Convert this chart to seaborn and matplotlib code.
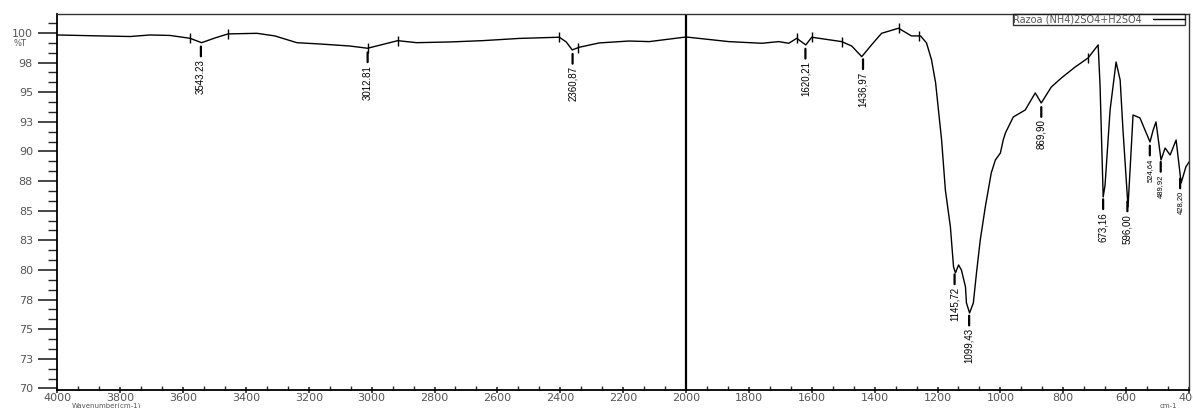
import numpy as np
import pandas as pd
import matplotlib
matplotlib.use("Agg")
import matplotlib.pyplot as plt
from matplotlib.ticker import MultipleLocator, FixedLocator
import seaborn as sns

# ---- data ----
wavenumber = [4000, 3863, 3768, 3705, 3641, 3578, 3541, 3498, 3457, 3365, 3308, 3238,
              3165, 3070, 3013, 2959, 2917, 2857, 2752, 2648, 2530, 2403, 2381, 2362,
              2340, 2276, 2181, 2117, 2000, 1864, 1759, 1705, 1673, 1648, 1619, 1600,
              1505, 1473, 1441, 1410, 1378, 1324, 1283, 1254, 1235, 1219, 1206, 1197,
              1187, 1175, 1159, 1149, 1143, 1133, 1124, 1111, 1108, 1098, 1086, 1076,
              1064, 1048, 1029, 1016, 1000, 991, 984, 959, 921, 889, 870, 838, 806,
              762, 721, 689, 683, 673, 667, 651, 632, 619, 610, 594, 584, 578, 556,
              540, 524, 514, 505, 489, 476, 460, 441, 425, 410, 400]
transmittance = [99.83, 99.75, 99.70, 99.83, 99.79, 99.55, 99.18, 99.58, 99.92, 99.97, 99.75, 99.18,
                 99.07, 98.90, 98.71, 99.07, 99.35, 99.18, 99.24, 99.35, 99.54, 99.64, 99.24, 98.57,
                 98.79, 99.16, 99.32, 99.27, 99.66, 99.27, 99.13, 99.27, 99.13, 99.55, 98.99, 99.64,
                 99.27, 98.90, 98.00, 98.99, 99.97, 100.40, 99.75, 99.75, 99.16, 97.73, 95.78, 93.50,
                 90.97, 86.75, 83.63, 80.25, 79.75, 80.42, 80.00, 78.57, 77.22, 76.37, 77.22, 79.75,
                 82.53, 85.32, 88.19, 89.28, 89.87, 90.97, 91.56, 92.91, 93.50, 94.94, 94.09, 95.44, 96.20,
                 97.13, 97.89, 98.99, 95.61, 86.16, 87.17, 93.50, 97.55, 96.03, 91.81, 85.32, 90.12, 93.08, 92.83,
                 91.81, 90.80, 91.81, 92.49, 89.28, 90.29, 89.70, 90.97, 87.34, 88.69, 89.11]

peak_positions = [3543.23, 3012.81, 2360.87, 1620.21, 1436.97, 1145.72, 1099.43,
                  869.90, 673.16, 596.00, 524.64, 489.92, 428.20]
peak_labels = ["3543.23", "3012.81", "2360,87", "1620,21", "1436,97", "1145,72", "1099,43",
               "869,90", "673,16", "596,00", "524,64", "489,92", "428,20"]
peak_fontsize = [7, 7, 7, 7, 7, 7, 7, 7, 7, 7, 5.5, 5.5, 5.5]

baseline_marks = [3578, 3457, 3013, 2917, 2403, 2345, 1648, 1600, 1505, 1324, 1260, 721]

ytick_values = [70, 72.5, 75, 77.5, 80, 82.5, 85, 87.5, 90, 92.5, 95, 97.5, 100]
ytick_labels = ["70", "73", "75", "78", "80", "83", "85", "88", "90", "93", "95", "98", "100"]
xtick_values = list(range(4000, 399, -200))

series_name = "Razoa (NH4)2SO4+H2SO4"

df = pd.DataFrame({"wn": wavenumber, "T": transmittance})

# ---- figure ----
sns.set_style("ticks")
plt.rcParams["font.family"] = ["DejaVu Sans"]

fig = plt.figure(figsize=(11.93, 4.08), dpi=100)
ax = fig.add_axes([57.3 / 1193, 1 - 390 / 408, (1189 - 57.3) / 1193, (390 - 14) / 408])

sns.lineplot(data=df, x="wn", y="T", ax=ax, sort=False, estimator=None,
             color="black", linewidth=1.0, label=series_name)

ax.set_xlim(4000, 400)
ax.set_ylim(69.87, 101.6)

ax.axvline(2000, color="black", linewidth=1.6)

# baseline markers on the trace
wn_asc = np.array(wavenumber)[::-1]
T_asc = np.array(transmittance)[::-1]
bm_y = np.interp(baseline_marks, wn_asc, T_asc)
ax.plot(baseline_marks, bm_y, linestyle="none", marker="|", markersize=7,
        markeredgewidth=1.0, color="black")

# peak annotations
label_font = ["Liberation Sans Narrow", "Liberation Sans", "DejaVu Sans"]
for pos, lab, fs in zip(peak_positions, peak_labels, peak_fontsize):
    yv = np.interp(pos, wn_asc, T_asc)
    ax.annotate("", xy=(pos, yv), xytext=(0, -10), textcoords="offset points",
                arrowprops=dict(arrowstyle="-", lw=1.6, color="black", shrinkA=0, shrinkB=3))
    ax.annotate(lab, xy=(pos, yv), xytext=(0, -12), textcoords="offset points",
                rotation=90, ha="center", va="top", fontsize=fs, family=label_font,
                color="black")

# ticks
ax.yaxis.set_major_locator(FixedLocator(ytick_values))
ax.set_yticklabels(ytick_labels)
ax.yaxis.set_minor_locator(MultipleLocator(2.5 / 3))
ax.xaxis.set_major_locator(FixedLocator(xtick_values))
ax.set_xticklabels([str(v) for v in xtick_values])
ax.xaxis.set_minor_locator(MultipleLocator(200 / 3))

ax.tick_params(axis="y", which="major", direction="out", length=13.5, width=1.2,
               labelsize=8, labelcolor="#555555", pad=4)
ax.tick_params(axis="y", which="minor", direction="out", length=6.5, width=1.0)
ax.tick_params(axis="x", which="major", direction="inout", length=5, width=1.2,
               labelsize=8, labelcolor="#555555", pad=0)
ax.tick_params(axis="x", which="minor", direction="in", length=3, width=1.0)

ax.set_xlabel("")
ax.set_ylabel("")

for side in ["left", "bottom"]:
    ax.spines[side].set_linewidth(1.3)
    ax.spines[side].set_color("black")
for side in ["top", "right"]:
    ax.spines[side].set_linewidth(1.0)
    ax.spines[side].set_color("#333333")
    ax.spines[side].set_visible(True)

leg = ax.legend(loc="upper right", bbox_to_anchor=((1185 - 57.3) / (1189 - 57.3), 1.0),
                markerfirst=False, fontsize=7, frameon=True, fancybox=False,
                borderpad=0.05, handlelength=3.2, handletextpad=1.2, borderaxespad=0)
leg.get_frame().set_edgecolor("black")
leg.get_frame().set_linewidth(1.0)
for t in leg.get_texts():
    t.set_color("#555555")

fig.text(14 / 1193, 1 - 44 / 408, "%T", fontsize=6, color="#555555", va="center", ha="left")
fig.text(72 / 1193, 1 - 405.5 / 408, "Wavenumber(cm-1)", fontsize=5, color="#555555",
         va="center", ha="left")
fig.text(1160 / 1193, 1 - 405.5 / 408, "cm-1", fontsize=5, color="#555555", va="center", ha="left")

fig.savefig("out.png", dpi=100)
